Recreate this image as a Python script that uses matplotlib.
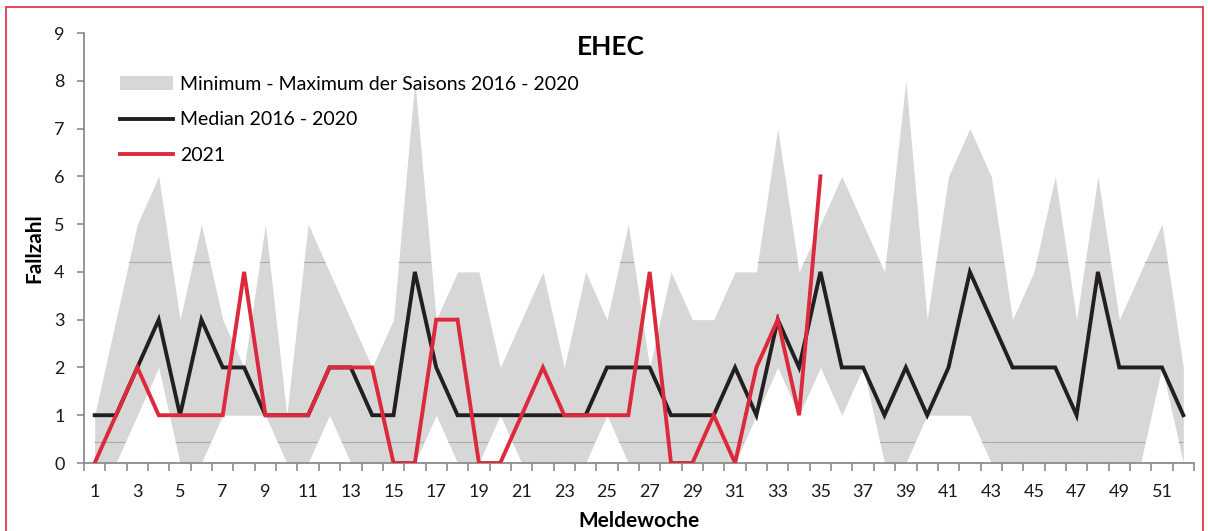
import matplotlib
matplotlib.use("Agg")
import matplotlib.pyplot as plt
import numpy as np
from matplotlib.patches import Rectangle
from matplotlib.lines import Line2D
from matplotlib.patches import Patch

plt.rcParams['font.family'] = ['Lato', 'DejaVu Sans']

weeks = list(range(1, 53))
max_2016_2020 = [1, 3, 5, 6, 3, 5, 3, 2, 5, 1, 5, 4, 3, 2, 3, 8, 3, 4, 4, 2,
                 3, 4, 2, 4, 3, 5, 2, 4, 3, 3, 4, 4, 7, 4, 5, 6, 5, 4, 8, 3,
                 6, 7, 6, 3, 4, 6, 3, 6, 3, 4, 5, 2]
min_2016_2020 = [0, 0, 1, 2, 0, 0, 1, 1, 1, 0, 0, 1, 0, 0, 0, 0, 1, 0, 0, 1,
                 0, 0, 0, 0, 1, 0, 0, 0, 0, 0, 0, 1, 2, 1, 2, 1, 2, 0, 0, 1,
                 1, 1, 0, 0, 0, 0, 0, 0, 0, 0, 2, 0]
median_2016_2020 = [1, 1, 2, 3, 1, 3, 2, 2, 1, 1, 1, 2, 2, 1, 1, 4, 2, 1, 1, 1,
                    1, 1, 1, 1, 2, 2, 2, 1, 1, 1, 2, 1, 3, 2, 4, 2, 2, 1, 2, 1,
                    2, 4, 3, 2, 2, 2, 1, 4, 2, 2, 2, 1]
weeks_2021 = list(range(1, 36))
cases_2021 = [0, 1, 2, 1, 1, 1, 1, 4, 1, 1, 1, 2, 2, 2, 0, 0, 3, 3, 0, 0,
              1, 2, 1, 1, 1, 1, 4, 0, 0, 1, 0, 2, 3, 1, 6]
x_tick_labels = [str(w) for w in range(1, 53, 2)]

W, H = 1208, 531
fig = plt.figure(figsize=(W / 100, H / 100), dpi=100)
fig.patch.set_facecolor('white')

# red frame around chart
fig.add_artist(Rectangle((6 / W, -0.05), (1203 - 6) / W, (531 - 7) / H + 0.05,
                         transform=fig.transFigure, fill=False,
                         edgecolor='#e0283c', linewidth=1.2))

ax = fig.add_axes([84 / W, (531 - 463) / H, (1194 - 84) / W, (463 - 33) / H])

band_color = '#d7d7d7'
band = ax.fill_between(weeks, min_2016_2020, max_2016_2020, color=band_color,
                       linewidth=0, zorder=1)
# faint texture lines inside the band
for yv in (4.2, 0.43):
    ln, = ax.plot([0.5, 52.5], [yv, yv], color='#ababab', lw=0.8, zorder=1.5)
    ln.set_clip_path(band.get_paths()[0], transform=ax.transData)

ax.plot(weeks, median_2016_2020, color='#231f20', lw=2.8, zorder=3,
        solid_joinstyle='miter')
ax.plot(weeks_2021, cases_2021, color='#dc2a3c', lw=2.8, zorder=4,
        solid_joinstyle='miter')

ax.set_xlim(0.5, 52.5)
ax.set_ylim(0, 9)

for s in ('top', 'right'):
    ax.spines[s].set_visible(False)
for s in ('left', 'bottom'):
    ax.spines[s].set_color('#8c8c8c')
    ax.spines[s].set_linewidth(1.3)

ax.set_yticks(range(0, 10))
ax.tick_params(axis='y', length=5, width=1.2, color='#8c8c8c', pad=9,
               labelsize=13, labelcolor='#1a1a1a')
ax.set_xticks(np.arange(0.5, 53, 1))
ax.set_xticklabels([])
ax.tick_params(axis='x', which='major', length=6, width=1.2, color='#8c8c8c')
ax.set_xticks(range(1, 53, 2), minor=True)
ax.set_xticklabels(x_tick_labels, minor=True)
ax.tick_params(axis='x', which='minor', length=0, pad=15, labelsize=13,
               labelcolor='#1a1a1a')

ax.set_ylabel('Fallzahl', fontsize=15, fontweight='bold', labelpad=7)
ax.set_xlabel('Meldewoche', fontsize=15, fontweight='bold', labelpad=8)
ax.text((611 - 84) / 1110, (463 - 47) / 430, 'EHEC', transform=ax.transAxes,
        ha='center', va='center', fontsize=19, fontweight='bold')

handles = [Patch(facecolor=band_color, edgecolor='none'),
           Line2D([], [], color='#231f20', lw=2.8),
           Line2D([], [], color='#dc2a3c', lw=2.8)]
labels = ['Minimum - Maximum der Saisons 2016 - 2020', 'Median 2016 - 2020', '2021']
leg = ax.legend(handles, labels, loc='upper left',
                bbox_to_anchor=((120 - 84) / 1110, (463 - 76) / 430),
                frameon=False, fontsize=14, handlelength=2.73, handleheight=0.7,
                handletextpad=0.36, labelspacing=0.95, borderaxespad=0,
                borderpad=0)

fig.savefig('out.png', dpi=100, facecolor='white')
